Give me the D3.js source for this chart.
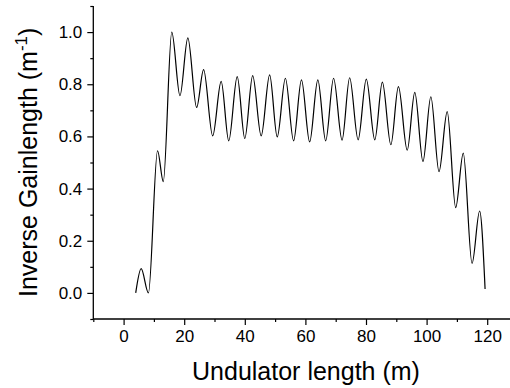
<!DOCTYPE html>
<html>
<head>
<meta charset="utf-8">
<script src="https://cdn.jsdelivr.net/npm/d3@7"></script>
<style>
  html, body { margin: 0; padding: 0; background: #fff; }
  svg { display: block; font-family: "Liberation Sans", Arial, sans-serif; }
</style>
</head>
<body>
<svg id="chart" width="510" height="388"></svg>
<script>
// extrema of the inverse gain length curve
const undulatorLength = [4.0, 5.8, 8.2, 11.2, 13.1, 15.9, 18.6, 21.2, 24.1, 26.4, 29.4, 32.2, 34.7, 37.5, 40.0,
  42.6, 45.4, 48.2, 50.7, 53.4, 56.1, 58.7, 61.4, 64.1, 66.7, 69.3, 72.1, 74.6, 77.4, 80.1, 82.9,
  85.4, 88.2, 90.7, 93.6, 96.1, 98.8, 101.4, 104.1, 106.8, 109.6, 112.1, 115.0, 117.5, 119.3];
const inverseGain = [0.0, 0.093, 0.0, 0.545, 0.427, 1.0, 0.756, 0.978, 0.711, 0.856, 0.602, 0.811, 0.583, 0.829, 0.592,
  0.833, 0.602, 0.836, 0.598, 0.823, 0.583, 0.817, 0.579, 0.817, 0.583, 0.823, 0.586, 0.825, 0.587, 0.82, 0.587,
  0.808, 0.568, 0.791, 0.547, 0.769, 0.504, 0.752, 0.465, 0.695, 0.327, 0.536, 0.113, 0.314, 0.015];

const xMajor = [0, 20, 40, 60, 80, 100, 120];
const xMinor = [-10, 10, 30, 50, 70, 90, 110, 130];
const yMajor = [0.0, 0.2, 0.4, 0.6, 0.8, 1.0];
const yMinor = [-0.1, 0.1, 0.3, 0.5, 0.7, 0.9, 1.1];

const svg = d3.select("#chart");
const mLeft = 93.3, mBottom = 319, mTop = 6;

const x = d3.scaleLinear().domain([-10, 130]).range([mLeft, mLeft + 140 * 3.03]);
const y = d3.scaleLinear().domain([-0.1, 1.1]).range([mBottom, mTop]);

// x axis
svg.append("g").attr("transform", `translate(0,${mBottom})`)
  .call(d3.axisBottom(x).tickValues(xMajor).tickSize(6).tickPadding(5).tickFormat(d3.format("d")));
svg.append("g").attr("transform", `translate(0,${mBottom})`)
  .call(d3.axisBottom(x).tickValues(xMinor).tickSize(3).tickFormat(""));

// y axis
svg.append("g").attr("transform", `translate(${mLeft},0)`)
  .call(d3.axisLeft(y).tickValues(yMajor).tickSize(6).tickPadding(5).tickFormat(d3.format(".1f")));
svg.append("g").attr("transform", `translate(${mLeft},0)`)
  .call(d3.axisLeft(y).tickValues(yMinor).tickSize(3).tickFormat(""));

svg.selectAll(".domain").remove();
svg.selectAll(".tick line").attr("stroke", "#000").attr("stroke-width", 1.2);
svg.selectAll(".tick text").style("font-size", "17px").attr("fill", "#000")
  .style("font-family", "'Liberation Sans', Arial, sans-serif");

svg.append("line").attr("x1", mLeft).attr("x2", 510).attr("y1", mBottom).attr("y2", mBottom)
  .attr("stroke", "#000").attr("stroke-width", 1.3);
svg.append("line").attr("x1", mLeft).attr("x2", mLeft).attr("y1", mTop).attr("y2", mBottom)
  .attr("stroke", "#000").attr("stroke-width", 1.3);

// curve
const pts = undulatorLength.map((d, i) => [d, inverseGain[i]]);
const line = d3.line().x(d => x(d[0])).y(d => y(d[1])).curve(d3.curveMonotoneX);
svg.append("path").datum(pts).attr("d", line)
  .attr("fill", "none").attr("stroke", "#000").attr("stroke-width", 1.2);

// titles
svg.append("text").attr("x", 306).attr("y", 380).attr("text-anchor", "middle")
  .style("font-size", "25px").text("Undulator length (m)");

const yt = svg.append("text").attr("transform", "translate(37,297) rotate(-90)")
  .attr("text-anchor", "start").style("font-size", "25px");
yt.append("tspan").text("Inverse Gainlength (m");
yt.append("tspan").attr("dy", -10).style("font-size", "17px").text("-1");
yt.append("tspan").attr("dy", 10).text(")");
</script>
</body>
</html>
